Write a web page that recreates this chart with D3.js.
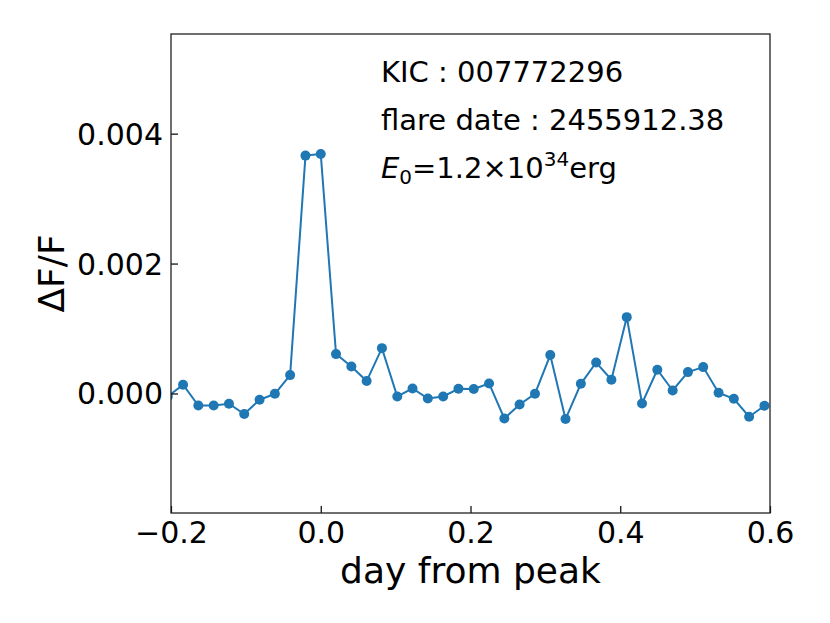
<!DOCTYPE html>
<html>
<head>
<meta charset="utf-8">
<script src="https://cdn.jsdelivr.net/npm/d3@7"></script>
<style>
  body { margin: 0; background: #fff; }
  svg text { font-family: "DejaVu Sans", sans-serif; fill: #000; }
</style>
</head>
<body>
<div id="chart"></div>
<script>
// light curve around the flare peak (days, relative flux)
var days = [-0.2043, -0.1839, -0.1635, -0.1430, -0.1226, -0.1022, -0.0817, -0.0613, -0.0409, -0.0204,
            0.0000, 0.0204, 0.0409, 0.0613, 0.0817, 0.1022, 0.1226, 0.1430, 0.1635, 0.1839,
            0.2043, 0.2248, 0.2452, 0.2656, 0.2861, 0.3065, 0.3269, 0.3474, 0.3678, 0.3882,
            0.4087, 0.4291, 0.4495, 0.4700, 0.4904, 0.5108, 0.5313, 0.5517, 0.5721, 0.5926];
var dFlux = [-0.000046, 0.000134, -0.000185, -0.000185, -0.000158, -0.000317, -0.000097, -0.000005, 0.000283, 0.003662,
             0.003688, 0.000606, 0.000415, 0.000191, 0.000698, -0.000046, 0.000077, -0.000077, -0.000046, 0.000072,
             0.000068, 0.000154, -0.000385, -0.000169, -0.000005, 0.000591, -0.000394, 0.000149, 0.000477, 0.000211,
             0.001175, -0.000154, 0.000365, 0.000046, 0.000329, 0.000406, 0.000011, -0.000082, -0.000358, -0.000189];

var xTicks = [-0.2, 0.0, 0.2, 0.4, 0.6];
var yTicks = [0.000, 0.002, 0.004];

var svgWidth = 830;
var svgHeight = 623;

var chartMargins = { top: 34, bottom: 110, right: 60, left: 171 };
var chartWidth = svgWidth - chartMargins.left - chartMargins.right;
var chartHeight = svgHeight - chartMargins.top - chartMargins.bottom;

var svg = d3.select("#chart")
  .append("svg")
  .attr("width", svgWidth)
  .attr("height", svgHeight);

var chartGroup = svg.append("g")
  .attr("transform", `translate(${chartMargins.left}, ${chartMargins.top})`);

var xScale = d3.scaleLinear().domain([-0.2, 0.6]).range([0, chartWidth]);
var yScale = d3.scaleLinear().domain([-0.00184, 0.005534]).range([chartHeight, 0]);

// clip the line to the axes box
svg.append("defs").append("clipPath").attr("id", "plotclip")
  .append("rect").attr("width", chartWidth).attr("height", chartHeight);

var pts = days.map((d, i) => ({ t: d, f: dFlux[i] }));

var plot = chartGroup.append("g").attr("clip-path", "url(#plotclip)");

plot.append("path")
  .datum(pts)
  .attr("fill", "none")
  .attr("stroke", "#1f77b4")
  .attr("stroke-width", 2)
  .attr("d", d3.line().x(d => xScale(d.t)).y(d => yScale(d.f)));

plot.selectAll("circle")
  .data(pts)
  .enter()
  .append("circle")
  .attr("cx", d => xScale(d.t))
  .attr("cy", d => yScale(d.f))
  .attr("r", 5)
  .attr("fill", "#1f77b4");

// axes, ticks pointing inward
var bottomAxis = d3.axisBottom(xScale).tickValues(xTicks)
  .tickSize(-7).tickPadding(9)
  .tickFormat(d => d3.format(".1f")(d).replace("-", "\u2212"));
var leftAxis = d3.axisLeft(yScale).tickValues(yTicks)
  .tickSize(-7).tickPadding(8)
  .tickFormat(d3.format(".3f"));

var gx = chartGroup.append("g")
  .attr("transform", `translate(0, ${chartHeight})`)
  .call(bottomAxis);
var gy = chartGroup.append("g").call(leftAxis);

[gx, gy].forEach(function(g) {
  g.select(".domain").remove();
  g.selectAll("line").attr("stroke", "#000").attr("stroke-width", 1.2);
  g.selectAll("text").attr("font-size", 30).attr("fill", "#000")
    .attr("font-family", "DejaVu Sans");
});
gy.selectAll("text").attr("dy", "0.35em");

// frame
chartGroup.append("rect")
  .attr("width", chartWidth)
  .attr("height", chartHeight)
  .attr("fill", "none")
  .attr("stroke", "#222")
  .attr("stroke-width", 1.3);

// axis labels
chartGroup.append("text")
  .attr("transform", `translate(${chartWidth / 2}, ${chartHeight + 70})`)
  .attr("text-anchor", "middle")
  .attr("font-size", 36)
  .text("day from peak");

chartGroup.append("text")
  .attr("transform", `translate(-107, ${chartHeight / 2}) rotate(-90)`)
  .attr("text-anchor", "middle")
  .attr("font-size", 36)
  .text("\u0394F/F");

// annotation
var note = chartGroup.append("g").attr("font-size", 29);
note.append("text").attr("x", 210).attr("y", 48).text("KIC : 007772296");
note.append("text").attr("x", 210).attr("y", 96).text("flare date : 2455912.38");
var e0 = note.append("text").attr("x", 210).attr("y", 144);
e0.append("tspan").attr("font-style", "italic").text("E");
e0.append("tspan").attr("font-size", 20).attr("dy", 6).text("0");
e0.append("tspan").attr("dy", -6).text("=1.2\u00d710");
e0.append("tspan").attr("font-size", 20).attr("dy", -12).text("34");
e0.append("tspan").attr("dy", 12).text("erg");
</script>
</body>
</html>
